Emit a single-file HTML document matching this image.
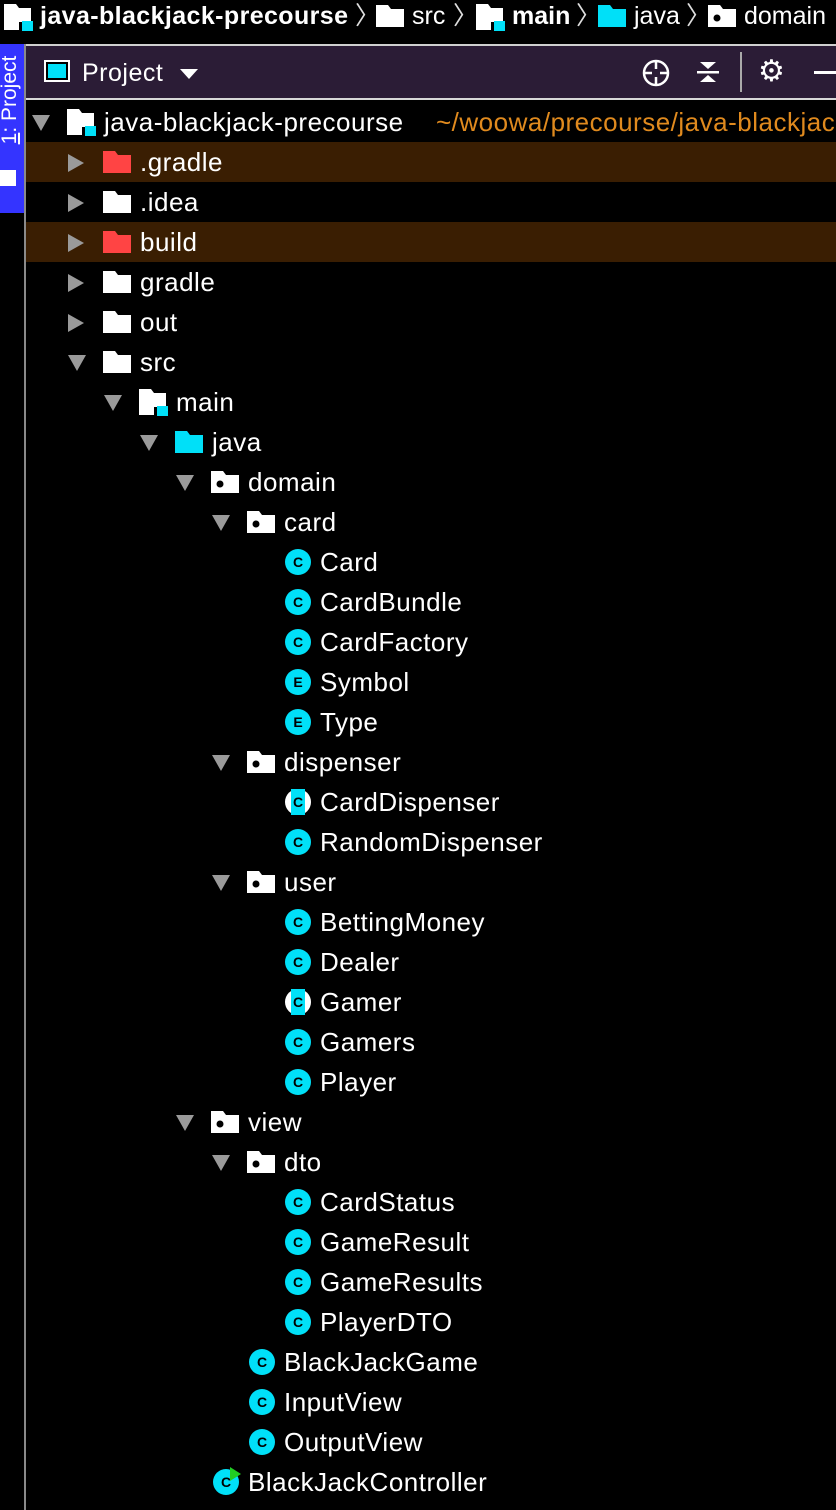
<!DOCTYPE html>
<html><head><meta charset="utf-8"><style>
body{margin:0;width:836px;height:1510px;background:#000;overflow:hidden;position:relative;font-family:"Liberation Sans",sans-serif;color:#fff}
.a{position:absolute}
.row{position:absolute;left:26px;right:0;height:40px}
.hl{background:#3a1e02}
.t{position:absolute;top:5px;font-size:26px;letter-spacing:0.5px;line-height:30px;white-space:nowrap}
.ar{position:absolute;top:12px;width:0;height:0}
.ex{border-left:9px solid transparent;border-right:9px solid transparent;border-top:16px solid #9a9a9a;top:13px}
.co{border-top:9px solid transparent;border-bottom:9px solid transparent;border-left:16px solid #9a9a9a}
.ic{position:absolute;top:7px}
.cc{position:absolute;top:7px;width:26px;height:26px;border-radius:50%;background:#00e0f8;color:#000;font-size:14px;font-weight:bold;text-align:center;line-height:26px}
</style></head><body>
<!-- breadcrumb -->
<div class="a" style="left:0;top:0;width:836px;height:42px;font-size:25px;line-height:32px">
<svg class="a" style="left:4px;top:4px" width="30" height="28"><path d="M0 0h12l3 4h12v14h-12v8h-15z" fill="#fff"/><rect x="18" y="17" width="11" height="10" fill="#00e0f8"/></svg>
<span class="a" style="left:40px;top:0;font-weight:bold;letter-spacing:0.4px">java-blackjack-precourse</span>
<span class="a" style="left:355px;top:0;color:#ddd">〉</span>
<svg class="a" style="left:376px;top:5px" width="28" height="22"><path d="M0 0h12l3 4h13v18h-28z" fill="#fff"/></svg>
<span class="a" style="left:412px;top:0">src</span>
<span class="a" style="left:453px;top:0;color:#ddd">〉</span>
<svg class="a" style="left:476px;top:4px" width="30" height="28"><path d="M0 0h12l3 4h12v14h-12v8h-15z" fill="#fff"/><rect x="18" y="17" width="11" height="10" fill="#00e0f8"/></svg>
<span class="a" style="left:512px;top:0;font-weight:bold">main</span>
<span class="a" style="left:576px;top:0;color:#ddd">〉</span>
<svg class="a" style="left:598px;top:5px" width="28" height="22"><path d="M0 0h12l3 4h13v18h-28z" fill="#00e0f8"/></svg>
<span class="a" style="left:634px;top:0">java</span>
<span class="a" style="left:686px;top:0;color:#ddd">〉</span>
<svg class="a" style="left:708px;top:5px" width="28" height="22"><path d="M0 0h12l3 4h13v18h-28z" fill="#fff"/><circle cx="9" cy="13" r="3.5" fill="#000"/></svg>
<span class="a" style="left:744px;top:0">domain</span>
</div>
<!-- left strip -->
<div class="a" style="left:0;top:44px;width:24px;height:169px;background:#3434ff"></div>
<div class="a" style="left:-50px;top:88px;width:120px;height:24px;transform:rotate(-90deg);font-size:21px;line-height:24px;text-align:center;color:#fff"><u>1</u>: Project</div>
<div class="a" style="left:0;top:170px;width:16px;height:16px;background:#fff"></div>
<div class="a" style="left:24px;top:44px;width:2px;height:1466px;background:#8a8a8a"></div>
<!-- header -->
<div class="a" style="left:26px;top:44px;width:810px;height:2px;background:#cfcfcf"></div>
<div class="a" style="left:26px;top:46px;width:810px;height:52px;background:#2b1c36"></div>
<div class="a" style="left:26px;top:98px;width:810px;height:2px;background:#d8d8d8"></div>
<div class="a" style="left:44px;top:60px;width:26px;height:22px;border:2px solid #fff;box-sizing:border-box;background:#000"><div style="margin:2px;height:14px;background:#00e0f8"></div></div>
<span class="a" style="left:82px;top:58px;font-size:25px;letter-spacing:0.5px;line-height:30px">Project</span>
<div class="a" style="left:180px;top:69px;border-left:9px solid transparent;border-right:9px solid transparent;border-top:10px solid #fff"></div>
<svg class="a" style="left:641px;top:58px" width="30" height="30"><circle cx="15" cy="15" r="12" stroke="#fff" stroke-width="2.5" fill="none"/><path d="M15 3v8M15 19v8M3 15h8M19 15h8" stroke="#fff" stroke-width="2.5"/></svg>
<svg class="a" style="left:694px;top:58px" width="28" height="28"><path d="M6 4h16l-8 7z M6 24h16l-8-7z" fill="#fff"/><rect x="3" y="13" width="22" height="2.5" fill="#fff"/></svg>
<div class="a" style="left:740px;top:52px;width:2px;height:40px;background:#aaa"></div>
<span class="a" style="left:758px;top:55px;font-size:30px;line-height:34px">⚙</span>
<div class="a" style="left:814px;top:71px;width:22px;height:3px;background:#fff"></div>

<div class="row" style="top:102px"><div class="ar ex" style="left:6px"></div>
<svg class="ic" style="left:41px" width="30" height="28"><path d="M0 0h12l3 4h12v14h-12v8h-15z" fill="#fff"/><rect x="18" y="17" width="11" height="10" fill="#00e0f8"/></svg>
<span class="t" style="left:78px">java-blackjack-precourse</span><span class="t" style="left:410px;color:#e08a1e">~/woowa/precourse/java-blackjack</span></div>

<div class="row hl" style="top:142px"><div class="ar co" style="left:42px"></div><svg class="ic" style="left:77px;top:9px" width="28" height="22"><path d="M0 0h12l3 4h13v18h-28z" fill="#ff4444"/></svg><span class="t" style="left:114px">.gradle</span></div>
<div class="row" style="top:182px"><div class="ar co" style="left:42px"></div><svg class="ic" style="left:77px;top:9px" width="28" height="22"><path d="M0 0h12l3 4h13v18h-28z" fill="#fff"/></svg><span class="t" style="left:114px">.idea</span></div>
<div class="row hl" style="top:222px"><div class="ar co" style="left:42px"></div><svg class="ic" style="left:77px;top:9px" width="28" height="22"><path d="M0 0h12l3 4h13v18h-28z" fill="#ff4444"/></svg><span class="t" style="left:114px">build</span></div>
<div class="row" style="top:262px"><div class="ar co" style="left:42px"></div><svg class="ic" style="left:77px;top:9px" width="28" height="22"><path d="M0 0h12l3 4h13v18h-28z" fill="#fff"/></svg><span class="t" style="left:114px">gradle</span></div>
<div class="row" style="top:302px"><div class="ar co" style="left:42px"></div><svg class="ic" style="left:77px;top:9px" width="28" height="22"><path d="M0 0h12l3 4h13v18h-28z" fill="#fff"/></svg><span class="t" style="left:114px">out</span></div>
<div class="row" style="top:342px"><div class="ar ex" style="left:42px"></div><svg class="ic" style="left:77px;top:9px" width="28" height="22"><path d="M0 0h12l3 4h13v18h-28z" fill="#fff"/></svg><span class="t" style="left:114px">src</span></div>
<div class="row" style="top:382px"><div class="ar ex" style="left:78px"></div><svg class="ic" style="left:113px" width="30" height="28"><path d="M0 0h12l3 4h12v14h-12v8h-15z" fill="#fff"/><rect x="18" y="17" width="11" height="10" fill="#00e0f8"/></svg><span class="t" style="left:150px">main</span></div>
<div class="row" style="top:422px"><div class="ar ex" style="left:114px"></div><svg class="ic" style="left:149px;top:9px" width="28" height="22"><path d="M0 0h12l3 4h13v18h-28z" fill="#00e0f8"/></svg><span class="t" style="left:186px">java</span></div>
<div class="row" style="top:462px"><div class="ar ex" style="left:150px"></div><svg class="ic" style="left:185px;top:9px" width="28" height="22"><path d="M0 0h12l3 4h13v18h-28z" fill="#fff"/><circle cx="9" cy="13" r="3.5" fill="#000"/></svg><span class="t" style="left:222px">domain</span></div>
<div class="row" style="top:502px"><div class="ar ex" style="left:186px"></div><svg class="ic" style="left:221px;top:9px" width="28" height="22"><path d="M0 0h12l3 4h13v18h-28z" fill="#fff"/><circle cx="9" cy="13" r="3.5" fill="#000"/></svg><span class="t" style="left:258px">card</span></div>
<div class="row" style="top:542px"><div class="cc" style="left:259px">C</div><span class="t" style="left:294px">Card</span></div>
<div class="row" style="top:582px"><div class="cc" style="left:259px">C</div><span class="t" style="left:294px">CardBundle</span></div>
<div class="row" style="top:622px"><div class="cc" style="left:259px">C</div><span class="t" style="left:294px">CardFactory</span></div>
<div class="row" style="top:662px"><div class="cc" style="left:259px">E</div><span class="t" style="left:294px">Symbol</span></div>
<div class="row" style="top:702px"><div class="cc" style="left:259px">E</div><span class="t" style="left:294px">Type</span></div>
<div class="row" style="top:742px"><div class="ar ex" style="left:186px"></div><svg class="ic" style="left:221px;top:9px" width="28" height="22"><path d="M0 0h12l3 4h13v18h-28z" fill="#fff"/><circle cx="9" cy="13" r="3.5" fill="#000"/></svg><span class="t" style="left:258px">dispenser</span></div>
<div class="row" style="top:782px"><div class="cc" style="left:259px;background:#fff"><div style="position:absolute;left:6px;top:0;width:14px;height:26px;background:#00e0f8;line-height:26px">C</div></div><span class="t" style="left:294px">CardDispenser</span></div>
<div class="row" style="top:822px"><div class="cc" style="left:259px">C</div><span class="t" style="left:294px">RandomDispenser</span></div>
<div class="row" style="top:862px"><div class="ar ex" style="left:186px"></div><svg class="ic" style="left:221px;top:9px" width="28" height="22"><path d="M0 0h12l3 4h13v18h-28z" fill="#fff"/><circle cx="9" cy="13" r="3.5" fill="#000"/></svg><span class="t" style="left:258px">user</span></div>
<div class="row" style="top:902px"><div class="cc" style="left:259px">C</div><span class="t" style="left:294px">BettingMoney</span></div>
<div class="row" style="top:942px"><div class="cc" style="left:259px">C</div><span class="t" style="left:294px">Dealer</span></div>
<div class="row" style="top:982px"><div class="cc" style="left:259px;background:#fff"><div style="position:absolute;left:6px;top:0;width:14px;height:26px;background:#00e0f8;line-height:26px">C</div></div><span class="t" style="left:294px">Gamer</span></div>
<div class="row" style="top:1022px"><div class="cc" style="left:259px">C</div><span class="t" style="left:294px">Gamers</span></div>
<div class="row" style="top:1062px"><div class="cc" style="left:259px">C</div><span class="t" style="left:294px">Player</span></div>
<div class="row" style="top:1102px"><div class="ar ex" style="left:150px"></div><svg class="ic" style="left:185px;top:9px" width="28" height="22"><path d="M0 0h12l3 4h13v18h-28z" fill="#fff"/><circle cx="9" cy="13" r="3.5" fill="#000"/></svg><span class="t" style="left:222px">view</span></div>
<div class="row" style="top:1142px"><div class="ar ex" style="left:186px"></div><svg class="ic" style="left:221px;top:9px" width="28" height="22"><path d="M0 0h12l3 4h13v18h-28z" fill="#fff"/><circle cx="9" cy="13" r="3.5" fill="#000"/></svg><span class="t" style="left:258px">dto</span></div>
<div class="row" style="top:1182px"><div class="cc" style="left:259px">C</div><span class="t" style="left:294px">CardStatus</span></div>
<div class="row" style="top:1222px"><div class="cc" style="left:259px">C</div><span class="t" style="left:294px">GameResult</span></div>
<div class="row" style="top:1262px"><div class="cc" style="left:259px">C</div><span class="t" style="left:294px">GameResults</span></div>
<div class="row" style="top:1302px"><div class="cc" style="left:259px">C</div><span class="t" style="left:294px">PlayerDTO</span></div>
<div class="row" style="top:1342px"><div class="cc" style="left:223px">C</div><span class="t" style="left:258px">BlackJackGame</span></div>
<div class="row" style="top:1382px"><div class="cc" style="left:223px">C</div><span class="t" style="left:258px">InputView</span></div>
<div class="row" style="top:1422px"><div class="cc" style="left:223px">C</div><span class="t" style="left:258px">OutputView</span></div>
<div class="row" style="top:1462px"><div class="cc" style="left:187px">C</div><svg class="ic" style="left:202px;top:4px" width="14" height="16"><path d="M2 1l11 7-11 7z" fill="#22cc22"/></svg><span class="t" style="left:222px">BlackJackController</span></div>
</body></html>
